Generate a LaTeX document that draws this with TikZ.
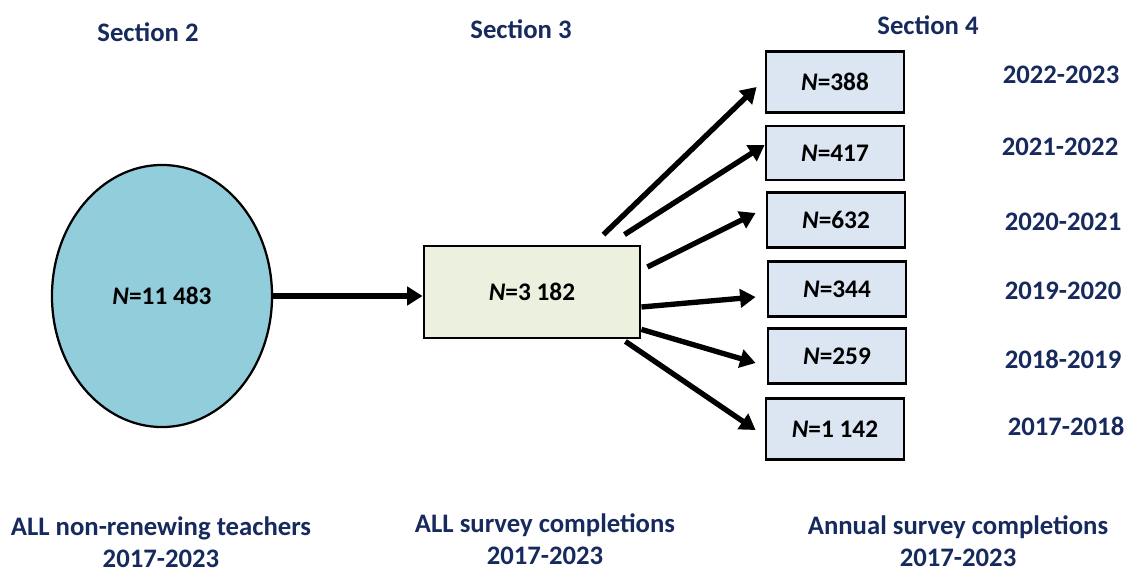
\documentclass[tikz,border=0pt]{standalone}
\usepackage{fontspec}
\setmainfont{Carlito}
\usetikzlibrary{arrows.meta,positioning,shapes.geometric,calc}
\definecolor{secNavy}{RGB}{23,42,94}
\definecolor{popBlue}{RGB}{146,205,220}
\definecolor{allGreen}{RGB}{235,241,222}
\definecolor{yearBlue}{RGB}{220,230,242}

\begin{document}
\begin{tikzpicture}[x=0.025cm,y=-0.025cm,
    lbl/.style={font=\fontsize{19}{23}\selectfont\bfseries,text=secNavy,align=center},
    nfont/.style={font=\fontsize{18}{20}\selectfont\bfseries},
    yearbox/.style={draw,line width=2pt,fill=yearBlue,minimum width=3.45cm,nfont},
    flow/.style={line width=3.8pt,-{Triangle[length=11pt,width=13pt]}}]
  \useasboundingbox (0,0) rectangle (1129,572);
  % section titles
  \node[lbl] (sec2) at (148,32) {Section 2};
  \node[lbl] (sec3) at (521,29) {Section 3};
  \node[lbl] (sec4) at (928,25) {Section 4};
  % populations
  \node[draw,ellipse,line width=1.6pt,fill=popBlue,minimum width=5.5cm,minimum height=6.55cm,nfont] (pop) at (162,296) {\textit{N}=11~483};
  \node[draw,line width=2pt,fill=allGreen,minimum width=5.4cm,minimum height=2.3cm,nfont] (all) at (532,292) {\textit{N}=3~182};
  \draw[flow] (pop.east) -- (pop.east -| all.west);
  % annual completions
  \foreach \i/\x/\y/\h/\n/\yr/\lx/\ly in {1/835/82/61/388/2022-2023/1061/75,
      2/835/153/54/417/2021-2022/1060/147,
      3/836/220/55/632/2020-2021/1063/222,
      4/837/289/55/344/2019-2020/1063/291,
      5/837/356/55/259/2018-2019/1063/359,
      6/835/429/61/1~142/2017-2018/1066/426} {
    \node[yearbox,minimum height=\h*0.025cm] (yr\i) at (\x,\y) {\textit{N}=\n};
    \node[lbl] (yl\i) at (\lx,\ly) {\yr};
  }
  \foreach \i/\from/\sx/\sy/\ex/\ey in {1/north east/-38/-10/-8/5,
      2/north east/-17/-10/0/-8,
      3/east/6/-25/-10/-7,
      4/east/0/15/-11/8,
      5/south east/0/-10/-11/7,
      6/south east/-16/2/-9/1} {
    \draw[flow] ($(all.\from)+(\sx,\sy)$) -- ($(yr\i.west)+(\ex,\ey)$);
  }
  % captions
  \node[lbl] (cap2) at (161,542) {ALL non-renewing teachers\\2017-2023};
  \node[lbl] (cap3) at (545,539) {ALL survey completions\\2017-2023};
  \node[lbl] (cap4) at (958,541) {Annual survey completions\\2017-2023};
\end{tikzpicture}
\end{document}
